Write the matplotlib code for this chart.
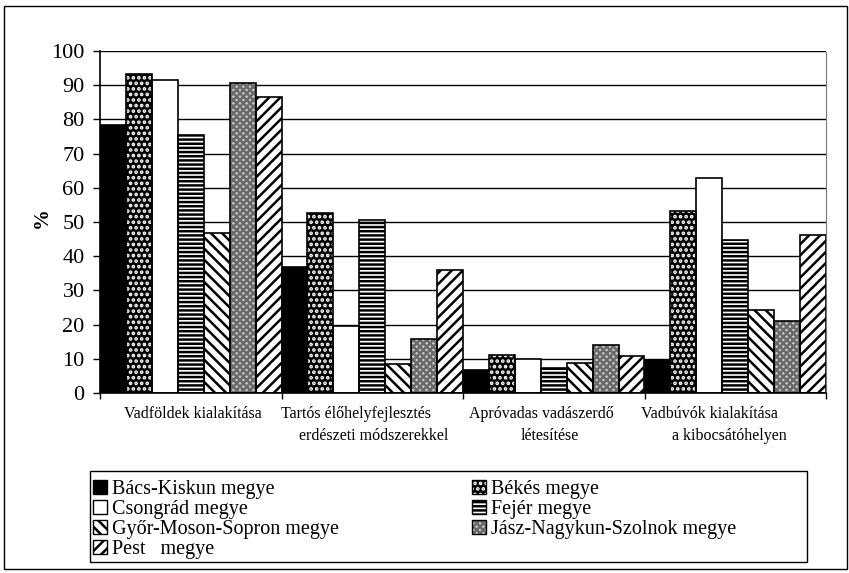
import numpy as np
import matplotlib
matplotlib.use('Agg')
import matplotlib.pyplot as plt
from matplotlib.patches import Rectangle

plt.rcParams['font.family'] = ['Liberation Serif', 'DejaVu Serif']
plt.rcParams['hatch.linewidth'] = 1.8

# data
categories = ['Vadföldek kialakítása',
              'Tartós élőhelyfejlesztés\nerdészeti módszerekkel',
              'Apróvadas vadászerdő\nlétesítése',
              'Vadbúvók kialakítása\na kibocsátóhelyen']
counties = ['Bács-Kiskun megye', 'Békés megye', 'Csongrád megye', 'Fejér megye',
            'Győr-Moson-Sopron megye', 'Jász-Nagykun-Szolnok megye', 'Pest   megye']
bacs = [78.3, 36.8, 6.6, 9.6]
bekes = [93.4, 52.7, 11.0, 53.1]
csongrad = [91.4, 19.5, 10.0, 63.0]
fejer = [75.4, 50.7, 7.3, 44.8]
gyor = [46.9, 8.6, 8.8, 24.2]
jasz = [90.5, 15.9, 14.1, 21.1]
pest = [86.5, 35.9, 10.8, 46.1]
series = [bacs, bekes, csongrad, fejer, gyor, jasz, pest]
yticks = list(range(0, 101, 10))

# fill styles for each county
styles = [
    dict(facecolor='black', edgecolor='black', hatch=None),
    dict(facecolor='black', edgecolor='white', hatch='...'),
    dict(facecolor='white', edgecolor='black', hatch=None),
    dict(facecolor='white', edgecolor='black', hatch='----'),
    dict(facecolor='white', edgecolor='black', hatch='\\\\\\'),
    dict(facecolor='#cfcfcf', edgecolor='#6a6a6a', hatch='xxxxx'),
    dict(facecolor='white', edgecolor='black', hatch='///'),
]

fig = plt.figure(figsize=(8.49, 5.73), dpi=100)
ax = fig.add_axes([100 / 849, 1 - 393 / 573, 726 / 849, 342 / 573])

x = np.arange(len(categories))
n = len(series)
w = 1.0 / n
handles = []
for i, (vals, st) in enumerate(zip(series, styles)):
    pos = x + (i - (n - 1) / 2) * w
    ax.bar(pos, vals, w, linewidth=0, zorder=2, **st)
    ax.bar(pos, vals, w, fill=False, edgecolor='black', linewidth=1.2, zorder=3)
    handles.append((Rectangle((0, 0), 1, 1, linewidth=0, **st),
                    Rectangle((0, 0), 1, 1, fill=False, edgecolor='black', linewidth=1.0)))

ax.set_xlim(-0.5, len(categories) - 0.5)
ax.set_ylim(0, 100)
ax.set_yticks(yticks)
ax.tick_params(axis='y', labelsize=16, length=5, width=1, pad=6)
ax.set_xticks(np.arange(len(categories) + 1) - 0.5)
ax.set_xticklabels([])
ax.tick_params(axis='x', length=4, width=1)
ax.grid(axis='y', color='black', linewidth=1.0)
ax.set_axisbelow(True)
for s in ['left', 'bottom']:
    ax.spines[s].set_linewidth(1.2)
ax.spines['top'].set_visible(False)
ax.spines['right'].set_color('#777777')
ax.spines['right'].set_linestyle((0, (3, 1)))
ax.spines['right'].set_linewidth(0.8)

fig.text(42 / 849, 1 - 218 / 573, '%', rotation=90, fontsize=15,
         fontweight='bold', ha='center', va='center')

# category labels, line by line
label_x = [[0.01], [0.91, 1.01], [1.93, 1.98], [2.86, 2.97]]
label_y = [-0.062, -0.126]
trans = ax.get_xaxis_transform()
for cat, xs in zip(categories, label_x):
    for j, (line, lx) in enumerate(zip(cat.split('\n'), xs)):
        ax.text(lx, label_y[j], line, transform=trans, fontsize=11.5,
                ha='center', va='center')

# legend box and outer frame
fig.add_artist(Rectangle((90 / 849, 1 - 562 / 573), 717 / 849, 91 / 573,
                         transform=fig.transFigure, fill=False,
                         edgecolor='black', linewidth=1.0))
fig.add_artist(Rectangle((4 / 849, 1 - 569 / 573), 843 / 849, 563 / 573,
                         transform=fig.transFigure, fill=False,
                         edgecolor='black', linewidth=1.0))

order = [0, 2, 4, 6, 1, 3, 5]
fig.legend([handles[k] for k in order], [counties[k] for k in order],
           loc='upper left', bbox_to_anchor=(93 / 849, 1 - 480 / 573),
           ncol=2, frameon=False, fontsize=14.5, handlelength=0.7,
           handleheight=0.7, handletextpad=0.25, labelspacing=0.05,
           columnspacing=6.6, borderpad=0, borderaxespad=0)

fig.savefig('out.png', dpi=100)
